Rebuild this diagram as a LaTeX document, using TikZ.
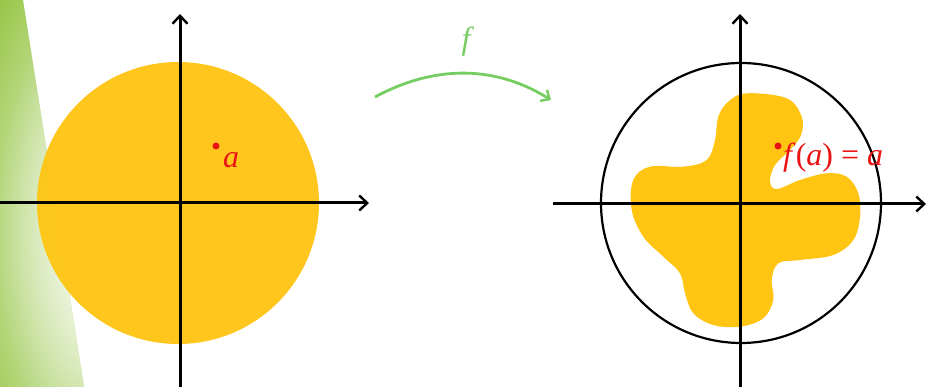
\documentclass[tikz,border=0pt]{standalone}
\usepackage{fontspec}
\setmainfont{Liberation Serif}
\usetikzlibrary{arrows.meta,fadings}
\tikzfading[name=softglow, inner color=transparent!0, outer color=transparent!100]
\definecolor{stripegreen}{RGB}{152,199,72}
\definecolor{diskyellow}{RGB}{255,197,18}
\definecolor{fgreen}{RGB}{118,206,98}
\definecolor{dotred}{RGB}{235,20,20}
\tikzset{
  axisline/.style={line width=3pt, black, -{Straight Barb[length=8pt,width=15pt,line width=2.4pt]}},
  rimline/.style={line width=2.2pt, black},
  reddot/.style={circle, fill=dotred, inner sep=0pt, minimum size=7pt},
  redlabel/.style={text=dotred, font=\fontsize{32}{34}\selectfont, inner sep=0pt},
  fmap/.style={line width=2.8pt, fgreen, -{Straight Barb[length=7pt,width=13pt,line width=2.4pt]}},
}
\begin{document}
\begin{tikzpicture}[x=1pt,y=-1pt]
\useasboundingbox (0,0) rectangle (930,387);
\fill[white] (0,0) rectangle (930,387);
% decorative stripe
\fill[stripegreen] (0,0) -- (23,0) -- (84,387) -- (0,387) -- cycle;
\begin{scope}
  \clip (0,0) -- (23,0) -- (84,387) -- (0,387) -- cycle;
  \fill[white, path fading=softglow] (105,230) ellipse [x radius=150pt, y radius=320pt];
  \fill[white, path fading=softglow, opacity=0.6] (105,230) ellipse [x radius=110pt, y radius=240pt];
\end{scope}
% left disk
\fill[diskyellow, opacity=0.95] (178,203) circle [radius=141pt];
\coordinate (lxs) at (0,203);
\coordinate (lxe) at (369,203);
\coordinate (lys) at (180,387);
\coordinate (lye) at (180,14);
\draw[axisline] (lxs) -- (lxe);
\draw[axisline] (lys) -- (lye);
\node[reddot] (da) at (216,146) {};
\node[redlabel, anchor=west] (la) at (223,160) {\itshape a};
% map arrow
\coordinate (ga) at (375,97);
\coordinate (gb) at (551,100);
\draw[fmap] (ga) .. controls (440,62) and (500,68) .. (gb);
\node[text=fgreen, font=\fontsize{32}{34}\selectfont\itshape, inner sep=0pt] (fl) at (466,42) {f};
% right blob
\fill[diskyellow] plot[smooth cycle, tension=0.6] coordinates {
 (746.7,93.3) (786.7,98.3) (801.7,116.7) (801,135) (790,150) (775,165) (770,181.7) (777,189)
 (800,180) (826.7,173.3) (846.7,176.7) (858.3,193.3) (860,216.7) (853.3,240) (833.3,255)
 (800,260) (778.3,263.3) (771.7,280) (773.3,300) (763.3,318.3) (740,326.7) (713.3,325)
 (693.3,313.3) (685,293.3) (680,273.3) (663.3,256.7) (643.3,236.7) (631.7,210) (633.3,180)
 (650,166.7) (683.3,166.7) (706.7,160) (715,140) (718.3,116.7) (728.3,101.7)};
\draw[rimline] (741,203) circle [radius=140pt];
\coordinate (rxs) at (553,204);
\coordinate (rxe) at (926,204);
\coordinate (rys) at (740,387);
\coordinate (rye) at (740,14);
\draw[axisline] (rxs) -- (rxe);
\draw[axisline] (rys) -- (rye);
\node[reddot] (db) at (778,146) {};
\node[redlabel, anchor=west] (lb) at (783,158) {\textit{f}(\textit{a}) = \textit{a}};
\end{tikzpicture}
\end{document}
